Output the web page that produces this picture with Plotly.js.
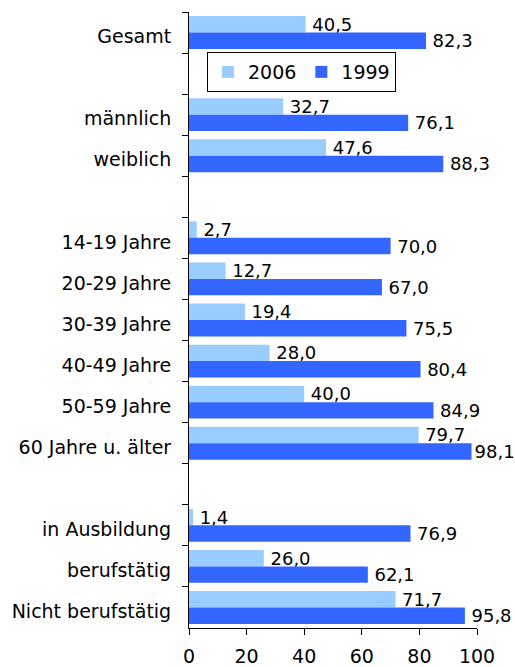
<!DOCTYPE html>
<html>
<head>
<meta charset="utf-8">
<script src="https://cdn.plot.ly/plotly-3.0.1.min.js"></script>
<style>
html,body{margin:0;padding:0;background:#fff;}
#chart{width:515px;height:667px;}
</style>
</head>
<body>
<div id="chart"></div>
<script>
var categories = ["Gesamt", " ", "männlich", "weiblich", "  ",
  "14-19 Jahre", "20-29 Jahre", "30-39 Jahre", "40-49 Jahre", "50-59 Jahre", "60 Jahre u. älter",
  "   ", "in Ausbildung", "berufstätig", "Nicht berufstätig"];
var values2006 = [40.5, null, 32.7, 47.6, null, 2.7, 12.7, 19.4, 28.0, 40.0, 79.7, null, 1.4, 26.0, 71.7];
var values1999 = [82.3, null, 76.1, 88.3, null, 70.0, 67.0, 75.5, 80.4, 84.9, 98.1, null, 76.9, 62.1, 95.8];
var xTicks = [0, 20, 40, 60, 80, 100];

// labels sit a small gap after the bar end, except when they would run past the right edge
function fmt(v){
  if (v === null) return "";
  var s = v.toFixed(1).replace(".", ",");
  return v < 97 ? "\u2009" + s : s;
}

var font = {family: "DejaVu Sans, Verdana, sans-serif", size: 19, color: "#000"};
var labelFont = {family: "DejaVu Sans, Verdana, sans-serif", size: 18, color: "#000"};

var traces = [
  {type: "bar", orientation: "h", name: "2006", y: categories, x: values2006,
   text: values2006.map(fmt), textposition: "outside", cliponaxis: false, constraintext: "none",
   textfont: labelFont, marker: {color: "#99CCFF"}, hoverinfo: "none"},
  {type: "bar", orientation: "h", name: "1999", y: categories, x: values1999,
   text: values1999.map(fmt), textposition: "outside", cliponaxis: false, constraintext: "none",
   textfont: labelFont, marker: {color: "#3366FF"}, hoverinfo: "none"}
];

var layout = {
  width: 515, height: 667,
  margin: {l: 189, r: 38, t: 12, b: 39},
  paper_bgcolor: "#fff", plot_bgcolor: "#fff",
  font: font,
  barmode: "group", bargap: 0.2, bargroupgap: 0,
  showlegend: true,
  legend: {orientation: "h", x: 0.0625, y: 0.935, xanchor: "left", yanchor: "top",
           bgcolor: "#fff", bordercolor: "#000", borderwidth: 1, font: font,
           traceorder: "normal"},
  xaxis: {range: [0, 100], tickvals: xTicks, ticktext: xTicks.map(String),
          showgrid: false, zeroline: false, showline: true, linecolor: "#000", linewidth: 1,
          ticks: "outside", ticklen: 6, tickcolor: "#000", tickfont: font,
          ticklabelstandoff: 5, fixedrange: true},
  yaxis: {type: "category", categoryorder: "array", categoryarray: categories,
          autorange: "reversed", tickson: "boundaries",
          showgrid: false, zeroline: false, showline: true, linecolor: "#000", linewidth: 1,
          ticks: "outside", ticklen: 6, tickcolor: "#000", tickfont: font,
          ticklabelstandoff: 13, ticklabelshift: -4, fixedrange: true}
};

Plotly.newPlot("chart", traces, layout, {displayModeBar: false, staticPlot: true});
</script>
</body>
</html>
